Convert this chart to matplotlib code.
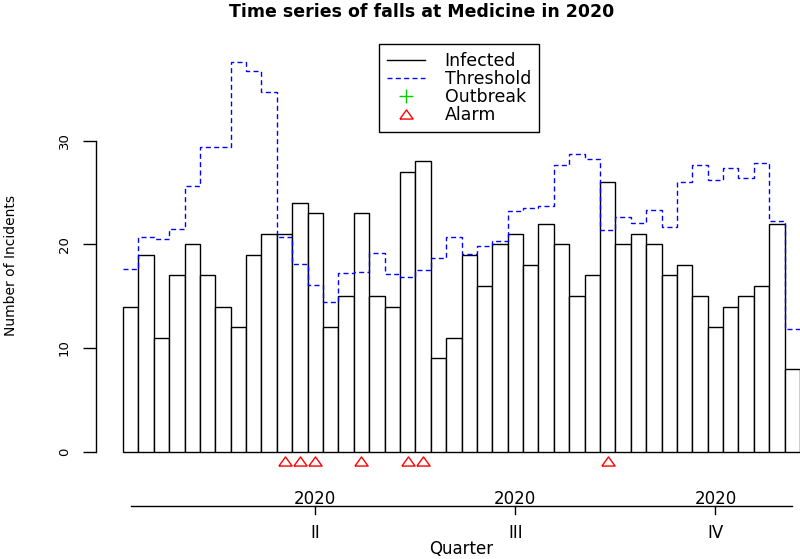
import numpy as np
import matplotlib
matplotlib.use("Agg")
import matplotlib.pyplot as plt
from matplotlib.lines import Line2D
from matplotlib.transforms import blended_transform_factory

plt.rcParams['font.family'] = ['DejaVu Sans']

# ---------------- data ----------------
title = "Time series of falls at Medicine in 2020"
weeks = np.arange(1, 45)
infected = [14, 19, 11, 17, 20, 17, 14, 12, 19, 21,
            21, 24, 23, 12, 15, 23, 15, 14, 27, 28,
            9, 11, 19, 16, 20, 21, 18, 22, 20, 15,
            17, 26, 20, 21, 20, 17, 18, 15, 12, 14,
            15, 16, 22, 8]
threshold = [17.6, 20.7, 20.5, 21.5, 25.6, 29.4, 29.4, 37.6, 36.7, 34.7,
             20.7, 18.1, 16.1, 14.45, 17.2, 17.3, 19.2, 17.1, 16.8, 17.5,
             18.65, 20.7, 19.1, 19.8, 20.3, 23.2, 23.5, 23.7, 27.6, 28.7,
             28.2, 21.4, 22.6, 22.1, 23.3, 21.7, 26.0, 27.6, 26.2, 27.4,
             26.4, 27.8, 22.2, 11.8]
alarm = [0, 0, 0, 0, 0, 0, 0, 0, 0, 0,
         1, 1, 1, 0, 0, 1, 0, 0, 1, 1,
         0, 0, 0, 0, 0, 0, 0, 0, 0, 0,
         0, 1, 0, 0, 0, 0, 0, 0, 0, 0,
         0, 0, 0, 0]
y_ticks = [0, 10, 20, 30]
quarter_ticks = [13, 26, 39]
quarter_labels = ["II", "III", "IV"]
year_labels = ["2020", "2020", "2020"]
legend_labels = ["Infected", "Threshold", "Outbreak", "Alarm"]

# ---------------- layout ----------------
W, H = 800, 559
fig = plt.figure(figsize=(W / 100, H / 100), dpi=100)
ax = fig.add_axes([96 / W, 1 - 467.3 / H, 704 / W, 414.9 / H])
ax.set_xlim(0.5 - 27 / 15.386, len(weeks) + 0.5)
ax.set_ylim(-1.5, 38.5)
ax.patch.set_alpha(0)

# bars
ax.bar(weeks, infected, width=1.0, color="white", edgecolor="black",
       linewidth=1.0, zorder=2)

# threshold step line
edges = np.append(weeks - 0.5, weeks[-1] + 0.5)
ax.stairs(threshold, edges, baseline=None, color="blue",
          linestyle=(0, (3.6, 2.4)), linewidth=1.0, zorder=3)

# alarms
tri = [(-1.0, -0.69), (1.0, -0.69), (0.0, 0.69), (-1.0, -0.69)]
alarm_x = [w for w, a in zip(weeks, alarm) if a]
alarm_level = -0.9
ax.plot(alarm_x, [alarm_level] * len(alarm_x), linestyle="none", marker=tri,
        markersize=9.5, markerfacecolor="none", markeredgecolor="red",
        markeredgewidth=1.0, clip_on=False, zorder=4)

# axes styling
for s in ["top", "right", "bottom"]:
    ax.spines[s].set_visible(False)
ax.spines["left"].set_bounds(y_ticks[0], y_ticks[-1])
ax.spines["left"].set_linewidth(1.0)
ax.set_xticks([])
ax.set_yticks(y_ticks)
ax.set_yticklabels([str(v) for v in y_ticks], rotation=90, va="center")
ax.tick_params(axis="y", length=9.2, width=1.0, pad=9, labelsize=9.5)
ax.set_ylabel("Number of Incidents", fontsize=10)
ax.yaxis.set_label_coords((18 - 96) / 704, (467.3 - 265) / 414.9)

# title
fig.text(421.5 / W, 1 - 17 / H, title, ha="center", va="baseline",
         fontsize=12.5, fontweight="bold")

# quarter axis below
trans = blended_transform_factory(ax.transData, fig.transFigure)
line_y = 1 - 506 / H
ax.plot([weeks[0], weeks[-1]], [line_y, line_y], transform=trans,
        color="black", linewidth=1.0, clip_on=False)
for x, yl, ql in zip(quarter_ticks, year_labels, quarter_labels):
    ax.plot([x, x], [line_y, 1 - 514 / H], transform=trans, color="black",
            linewidth=1.0, clip_on=False)
    ax.text(x, 1 - 503.5 / H, yl, transform=trans, ha="center",
            va="baseline", fontsize=12)
    ax.text(x, 1 - 538 / H, ql, transform=trans, ha="center",
            va="baseline", fontsize=12)
ax.text((weeks[0] + weeks[-1]) / 2, 1 - 554 / H, "Quarter", transform=trans,
        ha="center", va="baseline", fontsize=12)

# legend
handles = [
    Line2D([], [], color="black", linewidth=1.0),
    Line2D([], [], color="blue", linewidth=1.0, linestyle=(0, (3.6, 2.4))),
    Line2D([], [], color="#00cc00", linestyle="none", marker="+",
           markersize=10, markeredgewidth=1.0),
    Line2D([], [], color="red", linestyle="none", marker=tri, markersize=9.5,
           markerfacecolor="none", markeredgewidth=1.0),
]
leg = ax.legend(handles, legend_labels, loc="upper left",
                bbox_to_anchor=(379 / W, 1 - 44 / H),
                bbox_transform=fig.transFigure, borderaxespad=0,
                borderpad=0.45, handlelength=2.18, handletextpad=1.15,
                labelspacing=0.0, fontsize=12.5, frameon=True,
                fancybox=False, framealpha=1, edgecolor="black")
leg.get_frame().set_linewidth(1.0)

fig.savefig("out.png", dpi=100)
